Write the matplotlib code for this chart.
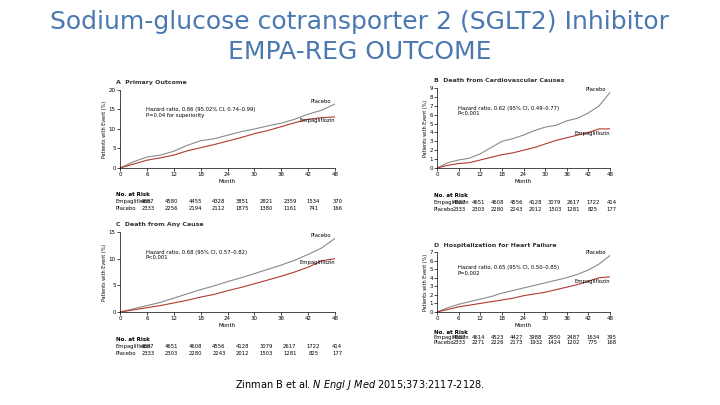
import matplotlib
matplotlib.use("Agg")
import matplotlib.pyplot as plt

months = [0, 3, 6, 9, 12, 15, 18, 21, 24, 27, 30, 33, 36, 39, 42, 45, 48]
a_pla = [0, 1.6, 2.8, 3.3, 4.3, 5.8, 7.0, 7.5, 8.4, 9.3, 10.0, 10.8, 11.5, 12.5, 13.8, 14.8, 16.4]
a_emp = [0, 1.0, 2.0, 2.6, 3.3, 4.4, 5.2, 6.0, 6.9, 7.8, 8.8, 9.6, 10.6, 11.6, 12.5, 12.9, 13.1]
b_pla = [0, 0.6, 0.9, 1.1, 1.6, 2.3, 3.0, 3.3, 3.7, 4.2, 4.6, 4.8, 5.3, 5.6, 6.2, 7.0, 8.5]
b_emp = [0, 0.3, 0.5, 0.6, 0.9, 1.2, 1.5, 1.7, 2.0, 2.3, 2.7, 3.1, 3.4, 3.7, 4.0, 4.4, 4.4]
c_pla = [0, 0.6, 1.2, 1.8, 2.6, 3.4, 4.2, 4.9, 5.7, 6.4, 7.2, 8.0, 8.8, 9.7, 10.8, 12.0, 13.8]
c_emp = [0, 0.4, 0.8, 1.2, 1.7, 2.2, 2.8, 3.3, 4.0, 4.6, 5.3, 6.0, 6.7, 7.5, 8.4, 9.6, 10.0]
d_pla = [0, 0.5, 0.9, 1.2, 1.5, 1.8, 2.2, 2.5, 2.8, 3.1, 3.4, 3.7, 4.0, 4.4, 4.9, 5.6, 6.6]
d_emp = [0, 0.3, 0.6, 0.8, 1.0, 1.2, 1.4, 1.6, 1.9, 2.1, 2.3, 2.6, 2.9, 3.2, 3.6, 4.0, 4.1]

risk_months = [0, 6, 12, 18, 24, 30, 36, 42, 48]
a_risk_emp = ["4687", "4580", "4455", "4328", "3851", "2821", "2359", "1534", "370"]
a_risk_pla = ["2333", "2256", "2194", "2112", "1875", "1380", "1161", "741", "166"]
b_risk_emp = ["4687", "4651", "4608", "4556", "4128", "3079", "2617", "1722", "414"]
b_risk_pla = ["2333", "2303", "2280", "2243", "2012", "1503", "1281", "825", "177"]
c_risk_emp = ["4687", "4651", "4608", "4556", "4128", "3079", "2617", "1722", "414"]
c_risk_pla = ["2333", "2303", "2280", "2243", "2012", "1503", "1281", "825", "177"]
d_risk_emp = ["4687", "4614", "4523", "4427", "3988", "2950", "2487", "1634", "395"]
d_risk_pla = ["2333", "2271", "2226", "2173", "1932", "1424", "1202", "775", "168"]

W, H = 720, 405
fig = plt.figure(figsize=(7.2, 4.05), dpi=100)
fig.text(0.5, 1 - 22 / H, "Sodium-glucose cotransporter 2 (SGLT2) Inhibitor",
         ha="center", va="center", fontsize=18, color="#4a78b0")
fig.text(0.5, 1 - 52 / H, "EMPA-REG OUTCOME", ha="center", va="center",
         fontsize=18, color="#4a78b0")
fig.text(0.5, 1 - 385 / H, r"Zinman B et al. $\it{N\ Engl\ J\ Med}$ 2015;373:2117-2128.",
         ha="center", va="center", fontsize=7)

panels = [
    ("A  Primary Outcome", (120, 90, 335, 168), 20, 5, a_pla, a_emp, a_risk_emp, a_risk_pla,
     "Hazard ratio, 0.86 (95.02% CI, 0.74–0.99)\nP=0.04 for superiority"),
    ("B  Death from Cardiovascular Causes", (437, 88, 610, 168), 9, 1, b_pla, b_emp, b_risk_emp, b_risk_pla,
     "Hazard ratio, 0.62 (95% CI, 0.49–0.77)\nP<0.001"),
    ("C  Death from Any Cause", (120, 232, 335, 312), 15, 5, c_pla, c_emp, c_risk_emp, c_risk_pla,
     "Hazard ratio, 0.68 (95% CI, 0.57–0.82)\nP<0.001"),
    ("D  Hospitalization for Heart Failure", (437, 252, 610, 312), 7, 1, d_pla, d_emp, d_risk_emp, d_risk_pla,
     "Hazard ratio, 0.65 (95% CI, 0.50–0.85)\nP=0.002"),
]

for title, (x0, y0, x1, y1), ymax, ystep, pla, emp, remp, rpla, hr in panels:
    ax = fig.add_axes([x0 / W, 1 - y1 / H, (x1 - x0) / W, (y1 - y0) / H])
    ax.plot(months, pla, color="#8a8a8a", lw=0.8)
    ax.plot(months, emp, color="#b03a2e", lw=0.8)
    ax.set_xlim(0, 48)
    ax.set_ylim(0, ymax)
    ax.set_xticks(risk_months)
    ax.set_yticks(range(0, ymax + 1, ystep))
    ax.tick_params(labelsize=4, length=2, width=0.5, pad=1)
    for s in ["top", "right"]:
        ax.spines[s].set_visible(False)
    for s in ["left", "bottom"]:
        ax.spines[s].set_linewidth(0.5)
    ax.set_xlabel("Month", fontsize=4, labelpad=1)
    ax.set_ylabel("Patients with Event (%)", fontsize=3.5, labelpad=1)
    ax.text(-0.02, 1.06, title, transform=ax.transAxes, fontsize=4.5, weight="bold",
            ha="left", va="bottom", color="#333333")
    ax.text(0.12, 0.78, hr, transform=ax.transAxes, fontsize=3.8, va="top")
    ax.text(47, pla[-1], "Placebo", fontsize=3.8, ha="right", va="bottom")
    ax.text(48, emp[-1] - 0.2, "Empagliflozin", fontsize=3.8, ha="right", va="top")
    # risk table
    ax.text(-0.02, -0.36, "No. at Risk", transform=ax.transAxes, fontsize=4, weight="bold")
    ax.text(-0.02, -0.45, "Empagliflozin", transform=ax.transAxes, fontsize=3.8)
    ax.text(-0.02, -0.54, "Placebo", transform=ax.transAxes, fontsize=3.8)
    for m, e, p in zip(risk_months, remp, rpla):
        xf = 0.13 + 0.88 * m / 48
        ax.text(xf, -0.45, e, transform=ax.transAxes, fontsize=3.8, ha="center")
        ax.text(xf, -0.54, p, transform=ax.transAxes, fontsize=3.8, ha="center")

fig.savefig("out.png", dpi=100)
